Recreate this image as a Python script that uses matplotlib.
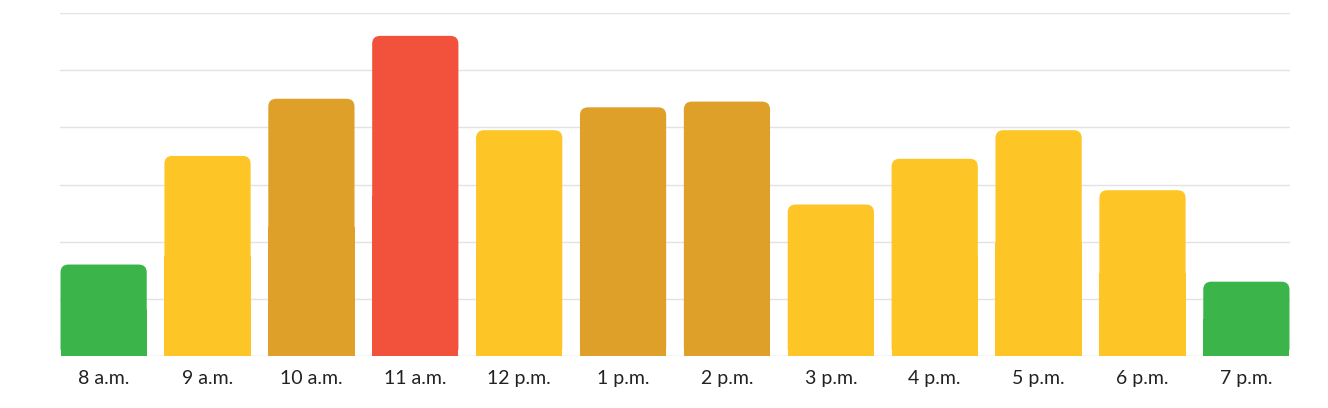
import matplotlib
matplotlib.use("Agg")
import matplotlib.pyplot as plt
from matplotlib.patches import FancyBboxPatch, Rectangle

labels = ["8 a.m.", "9 a.m.", "10 a.m.", "11 a.m.", "12 p.m.", "1 p.m.", "2 p.m.", "3 p.m.", "4 p.m.", "5 p.m.", "6 p.m.", "7 p.m."]
values = [32, 70, 90, 112, 79, 87, 89, 53, 69, 79, 58, 26]
colors = ["#3BB54A", "#FDC526", "#DFA02A", "#F2523C", "#FDC526", "#DFA02A", "#DFA02A", "#FDC526", "#FDC526", "#FDC526", "#FDC526", "#3BB54A"]

W, H = 1328, 408
fig = plt.figure(figsize=(W/100, H/100), dpi=100)
ax = fig.add_axes([60/W, (H-356)/H, 1230/W, 343/H])
x0, x1 = -0.42, 11.42
ax.set_xlim(x0, x1)
ax.set_ylim(0, 120)
for y in range(20, 121, 20):
    ax.axhline(y, color="#e3e3e3", lw=1, zorder=0)
ax.axhline(0, color="#d0d0d0", lw=1, zorder=0)

bw = 0.83
pxx = 1230/(x1-x0)
pxy = 343/120
aspect = pxx/pxy
r = 8/pxx
for i, (v, c) in enumerate(zip(values, colors)):
    left = i - bw/2
    ax.add_patch(FancyBboxPatch((left, 0), bw, v, boxstyle=f"round,pad=0,rounding_size={r}",
                                mutation_aspect=aspect, fc=c, ec="none", zorder=2))
    ax.add_patch(Rectangle((left, 0), bw, v/2, fc=c, ec="none", zorder=2))

ax.set_xticks(range(len(labels)))
ax.set_xticklabels(labels, fontsize=14, family=["Lato", "DejaVu Sans"], color="#222222")
ax.tick_params(axis="x", length=0, pad=10)
ax.set_yticks([])
for s in ax.spines.values():
    s.set_visible(False)
fig.savefig("out.png", dpi=100)
